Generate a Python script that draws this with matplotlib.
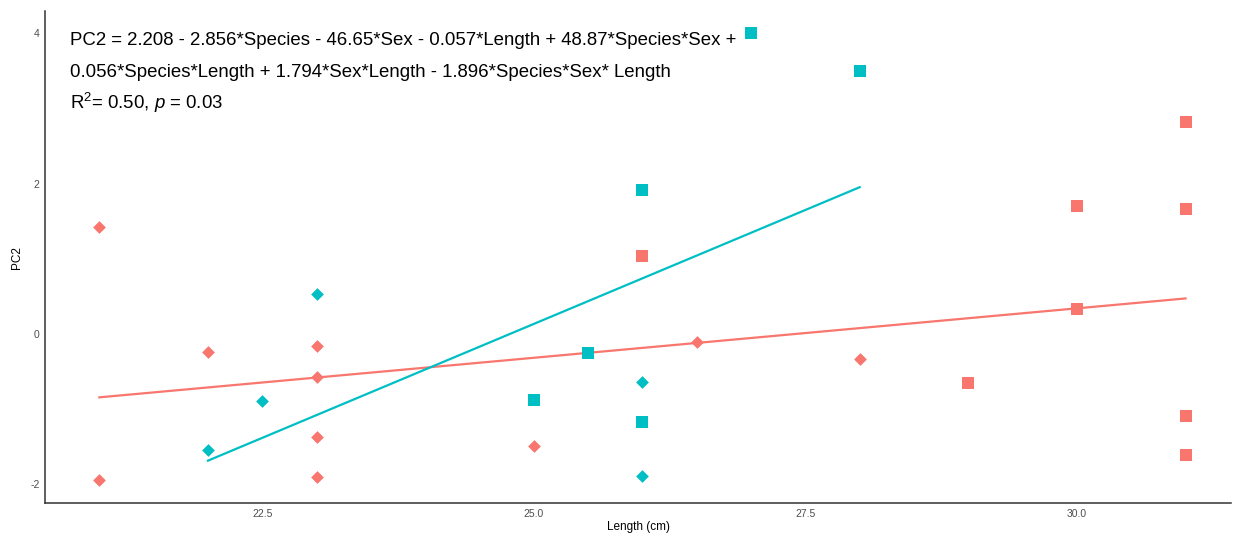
import matplotlib.pyplot as plt
import numpy as np

plt.rcParams['font.family'] = ['Liberation Sans', 'DejaVu Sans']
plt.rcParams['mathtext.fontset'] = 'custom'
plt.rcParams['mathtext.rm'] = 'Liberation Sans'
plt.rcParams['mathtext.it'] = 'Liberation Sans:italic'
plt.rcParams['axes.unicode_minus'] = False

# salmon group (diamonds then squares)
red_dia_x = [21, 21, 22, 23, 23, 23, 23, 25, 26.5, 28]
red_dia_y = [1.42, -1.95, -0.24, -0.16, -0.57, -1.37, -1.90, -1.49, -0.11, -0.33]
red_sq_x = [26, 31, 30, 31, 30, 29, 31, 31]
red_sq_y = [1.04, 2.82, 1.70, 1.66, 0.33, -0.65, -1.09, -1.61]

# teal group
teal_dia_x = [23, 22.5, 22, 26, 26]
teal_dia_y = [0.53, -0.89, -1.55, -0.64, -1.89]
teal_sq_x = [27, 28, 26, 25.5, 25, 26]
teal_sq_y = [4.0, 3.5, 1.91, -0.25, -0.88, -1.17]

red = '#F8766D'
teal = '#00BFC4'

fig = plt.figure(figsize=(12.33, 5.36), dpi=100)
ax = fig.add_axes([0.0365, 0.0616, 0.962, 0.917])

for xs, ys, col in [(red_dia_x + red_sq_x, red_dia_y + red_sq_y, red),
                    (teal_dia_x + teal_sq_x, teal_dia_y + teal_sq_y, teal)]:
    fit = np.poly1d(np.polyfit(xs, ys, 1))
    xl = np.array([min(xs), max(xs)])
    ax.plot(xl, fit(xl), color=col, lw=1.6, zorder=2)

ax.scatter(red_dia_x, red_dia_y, marker='D', s=42, color=red, lw=0, zorder=3)
ax.scatter(red_sq_x, red_sq_y, marker='s', s=85, color=red, lw=0, zorder=3)
ax.scatter(teal_dia_x, teal_dia_y, marker='D', s=42, color=teal, lw=0, zorder=3)
ax.scatter(teal_sq_x, teal_sq_y, marker='s', s=85, color=teal, lw=0, zorder=3)

ax.set_xlim(20.5, 31.42)
ax.set_ylim(-2.25, 4.29)
ax.set_xticks([22.5, 25.0, 27.5, 30.0])
ax.set_xticklabels(['22.5', '25.0', '27.5', '30.0'])
ax.set_yticks([-2, 0, 2, 4])
ax.tick_params(length=0, labelsize=7.5, labelcolor='#4D4D4D', pad=4)
for s in ['top', 'right']:
    ax.spines[s].set_visible(False)
for s in ['left', 'bottom']:
    ax.spines[s].set_color('#333333')
    ax.spines[s].set_linewidth(1.1)

ax.set_xlabel('Length (cm)', fontsize=8.5, labelpad=2)
ax.set_ylabel('PC2', fontsize=8.5, labelpad=5)

ax.text(20.73, 3.9, 'PC2 = 2.208 - 2.856*Species - 46.65*Sex - 0.057*Length + 48.87*Species*Sex +',
        fontsize=13.4, va='center')
ax.text(20.73, 3.48, '0.056*Species*Length + 1.794*Sex*Length - 1.896*Species*Sex* Length',
        fontsize=13.4, va='center')
ax.text(20.73, 3.07, r'R$^2$= 0.50, $p$ = 0.03', fontsize=13.4, va='center')

fig.savefig('out.png', dpi=100)
